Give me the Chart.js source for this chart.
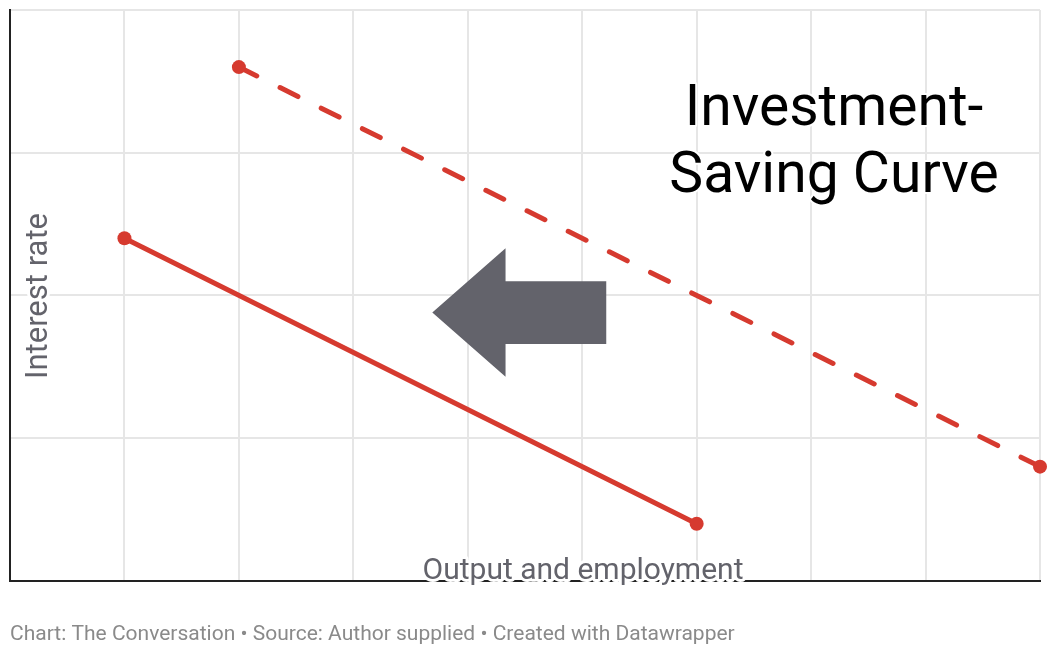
<!DOCTYPE html>
<html>
<head>
<meta charset="utf-8">
<script src="https://cdn.jsdelivr.net/npm/chart.js@4"></script>
<style>
  body { margin: 0; background: #fff; }
  #wrap { width: 1050px; height: 656px; }
</style>
</head>
<body>
<div id="wrap"><canvas id="myChart"></canvas></div>
<script>
// curve values (output on x, interest rate on y)
const solidX = [1, 6];
const solidY = [2.4, 0.4];
const dashedX = [2, 9];
const dashedY = [3.6, 0.8];
// left-pointing shift arrow, outline in data units
const arrowX = [3.69, 4.33, 4.33, 5.21, 5.21, 4.33, 4.33, 3.69];
const arrowY = [1.88, 2.33, 2.10, 2.10, 1.66, 1.66, 1.43, 1.88];

const titleLines = ['Investment-', 'Saving Curve'];
const xTitle = 'Output and employment';
const yTitle = 'Interest rate';
const footer = 'Chart: The Conversation \u2022 Source: Author supplied \u2022 Created with Datawrapper';

const red = '#d63a2f';
const grey = '#63636b';

function pts(xs, ys){
  return xs.map((x, i) => ({x: x, y: ys[i]}));
}

const labelsPlugin = {
  id: 'labels',
  afterDatasetsDraw(chart){
    const c = chart.ctx;
    const a = chart.chartArea;
    const xs = chart.scales.x;
    c.save();
    c.lineJoin = 'round';

    // axis titles with white halo
    c.font = '30px Roboto';
    c.textAlign = 'center';
    c.textBaseline = 'alphabetic';
    c.strokeStyle = '#fff';
    c.lineWidth = 6;
    c.fillStyle = grey;
    c.strokeText(xTitle, 583, a.bottom - 2);
    c.fillText(xTitle, 583, a.bottom - 2);

    c.save();
    c.translate(a.left + 29, 296);
    c.rotate(-Math.PI / 2);
    c.font = '31px Roboto';
    c.textBaseline = 'middle';
    c.strokeText(yTitle, 0, 0);
    c.fillText(yTitle, 0, 0);
    c.restore();

    // curve label
    c.font = '57px Roboto';
    c.fillStyle = '#000';
    c.strokeStyle = '#fff';
    c.lineWidth = 4;
    const cx = xs.getPixelForValue(7.2);
    titleLines.forEach((t, i) => {
      c.strokeText(t, cx, 125 + i * 67);
      c.fillText(t, cx, 125 + i * 67);
    });
    c.restore();
  }
};

const ctx = document.getElementById('myChart');

new Chart(ctx, {
  type: 'scatter',
  data: {
    datasets: [{
      label: 'arrow',
      data: pts(arrowX, arrowY),
      showLine: true,
      borderWidth: 0,
      pointRadius: 0,
      fill: 'shape',
      backgroundColor: grey,
      borderColor: grey,
      tension: 0
    }, {
      label: 'IS',
      data: pts(solidX, solidY),
      showLine: true,
      clip: false,
      borderColor: red,
      backgroundColor: red,
      borderWidth: 5,
      pointRadius: 7,
      pointBorderWidth: 0
    }, {
      label: 'IS shifted',
      data: pts(dashedX, dashedY),
      showLine: true,
      clip: false,
      borderColor: red,
      backgroundColor: red,
      borderWidth: 5,
      borderDash: [20, 26],
      borderCapStyle: 'round',
      pointRadius: 7,
      pointBorderWidth: 0
    }]
  },
  options: {
    responsive: true,
    maintainAspectRatio: false,
    animation: false,
    layout: {
      padding: {left: 10, right: 10, top: 10, bottom: 0}
    },
    plugins: {
      legend: { display: false },
      tooltip: { enabled: false },
      title: {
        display: true,
        text: footer,
        position: 'bottom',
        align: 'start',
        color: '#8a8a8a',
        font: { family: 'Roboto', size: 21, weight: 'normal', lineHeight: 1.2 },
        padding: { top: 41, bottom: 9 }
      }
    },
    scales: {
      x: {
        type: 'linear',
        min: 0,
        max: 9,
        border: { display: true, color: '#222', width: 2 },
        grid: { color: '#e6e6e6', lineWidth: 2, drawTicks: false },
        ticks: { display: false, stepSize: 1 }
      },
      y: {
        min: 0,
        max: 4,
        border: { display: true, color: '#222', width: 2 },
        grid: { color: '#e6e6e6', lineWidth: 2, drawTicks: false },
        ticks: { display: false, stepSize: 1 }
      }
    }
  },
  plugins: [labelsPlugin]
});
</script>
</body>
</html>
